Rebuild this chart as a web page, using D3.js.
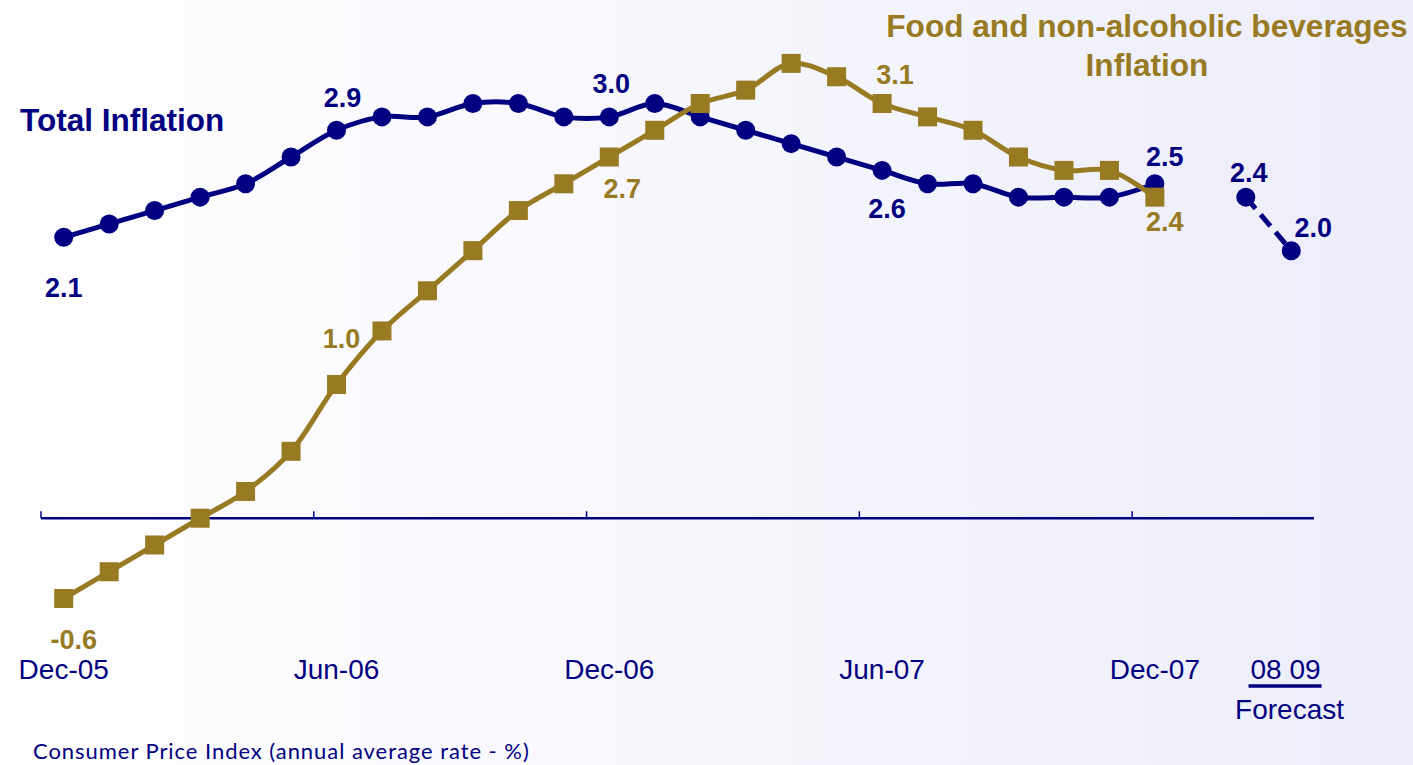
<!DOCTYPE html>
<html>
<head>
<meta charset="utf-8">
<script src="https://cdn.jsdelivr.net/npm/d3@7"></script>
<style>
  html, body { margin: 0; padding: 0; background: #fff; }
  svg { display: block; }
</style>
</head>
<body>
<script>
// Monthly categories, Dec-05 to Dec-07
const months = ["Dec-05","Jan-06","Feb-06","Mar-06","Apr-06","May-06","Jun-06","Jul-06","Aug-06",
  "Sep-06","Oct-06","Nov-06","Dec-06","Jan-07","Feb-07","Mar-07","Apr-07","May-07","Jun-07",
  "Jul-07","Aug-07","Sep-07","Oct-07","Nov-07","Dec-07"];
// Annual forecast categories
const forecastYears = ["08","09"];
// Months shown as axis labels
const tickMonths = ["Dec-05","Jun-06","Dec-06","Jun-07","Dec-07"];

// Consumer Price Index, annual average rate (%)
const totalInflation = [2.1,2.2,2.3,2.4,2.5,2.7,2.9,3.0,3.0,3.1,3.1,3.0,3.0,3.1,3.0,2.9,2.8,2.7,2.6,2.5,2.5,2.4,2.4,2.4,2.5];
const foodInflation  = [-0.6,-0.4,-0.2,0.0,0.2,0.5,1.0,1.4,1.7,2.0,2.3,2.5,2.7,2.9,3.1,3.2,3.4,3.3,3.1,3.0,2.9,2.7,2.6,2.6,2.4];
const totalForecast  = [2.4, 2.0];

// Points that carry a value label
const totalLabelled = ["Dec-05","Jun-06","Dec-06","Jun-07","Dec-07"];
const foodLabelled  = ["Dec-05","Jun-06","Dec-06","Jun-07","Dec-07"];

const yDomain = [-1, 3.5];

const W = 1413, H = 765;
const NAVY = "#000080", OLIVE = "#977A22";
const FONT = "'Liberation Sans', Arial, Helvetica, sans-serif";

const svg = d3.select("body").append("svg").attr("width", W).attr("height", H);

// soft horizontal background wash
const defs = svg.append("defs");
const grad = defs.append("linearGradient").attr("id", "bg").attr("x1", "0").attr("x2", "1").attr("y1", "0").attr("y2", "0");
grad.append("stop").attr("offset", "0").attr("stop-color", "#ffffff");
grad.append("stop").attr("offset", "1").attr("stop-color", "#ededfa");
svg.append("rect").attr("width", W).attr("height", H).attr("fill", "url(#bg)");

// category axis: months, one empty slot, then forecast years
const GAP = "\u2009";
const categories = months.concat([GAP], forecastYears);
const x = d3.scaleBand().domain(categories).range([41, 1314]).paddingInner(0).paddingOuter(0);
const cx = c => x(c) + x.bandwidth() / 2;
const y = d3.scaleLinear().domain(yDomain).range([652, 50]);

// zero line with upward ticks at half-year boundaries
svg.append("line")
  .attr("x1", x.range()[0]).attr("x2", x.range()[1])
  .attr("y1", y(0)).attr("y2", y(0))
  .attr("stroke", NAVY).attr("stroke-width", 2.5);
svg.append("g").selectAll("line").data(tickMonths)
  .join("line")
  .attr("x1", d => x(d)).attr("x2", d => x(d))
  .attr("y1", y(0)).attr("y2", y(0) - 7)
  .attr("stroke", NAVY).attr("stroke-width", 1.5);

// month labels at the bottom of the plot area
const xAxis = d3.axisBottom(x).tickValues(tickMonths).tickSizeInner(0).tickSizeOuter(0).tickPadding(7);
const gx = svg.append("g").attr("transform", `translate(0,${y(yDomain[0])})`).call(xAxis);
gx.select(".domain").remove();
gx.selectAll("text").attr("fill", NAVY).style("font-family", FONT).style("font-size", "28px");

// forecast labels
const fxMid = d3.mean(forecastYears, cx) + 17;
const fText = svg.append("text")
  .attr("x", fxMid).attr("y", 679)
  .attr("text-anchor", "middle")
  .attr("fill", NAVY).style("font-family", FONT).style("font-size", "28px")
  .text(forecastYears.join(" "));
const fb = fText.node().getBBox();
svg.append("line")
  .attr("x1", fb.x - 2).attr("x2", fb.x + fb.width + 1)
  .attr("y1", 686).attr("y2", 686)
  .attr("stroke", NAVY).attr("stroke-width", 3.5);
svg.append("text")
  .attr("x", fxMid + 4).attr("y", 719)
  .attr("text-anchor", "middle")
  .attr("fill", NAVY).style("font-family", FONT).style("font-size", "28px")
  .text("Forecast");

const line = d3.line().x(d => cx(d.c)).y(d => y(d.v)).curve(d3.curveCatmullRom.alpha(0.5));

const totalPts = months.map((c, i) => ({ c, v: totalInflation[i] }));
const foodPts  = months.map((c, i) => ({ c, v: foodInflation[i] }));
const fcPts    = forecastYears.map((c, i) => ({ c, v: totalForecast[i] }));

// Total inflation
svg.append("path").datum(totalPts)
  .attr("d", line).attr("fill", "none")
  .attr("stroke", NAVY).attr("stroke-width", 5);
svg.append("path").datum(fcPts)
  .attr("d", d3.line().x(d => cx(d.c)).y(d => y(d.v))).attr("fill", "none")
  .attr("stroke", NAVY).attr("stroke-width", 5).attr("stroke-dasharray", "15,8");
svg.append("g").selectAll("circle").data(totalPts.concat(fcPts))
  .join("circle")
  .attr("cx", d => cx(d.c)).attr("cy", d => y(d.v)).attr("r", 9.5)
  .attr("fill", NAVY);

// Food and non-alcoholic beverages inflation
svg.append("path").datum(foodPts)
  .attr("d", line).attr("fill", "none")
  .attr("stroke", OLIVE).attr("stroke-width", 5);
const S = 19;
svg.append("g").selectAll("rect").data(foodPts)
  .join("rect")
  .attr("x", d => cx(d.c) - S / 2).attr("y", d => y(d.v) - S / 2)
  .attr("width", S).attr("height", S)
  .attr("fill", OLIVE);

// value labels (offsets relative to the marker centre: dx, baseline dy)
const totalOffsets = { "Dec-05": [0, 60], "Jun-06": [6, -23], "Dec-06": [2, -24], "Jun-07": [5, 48], "Dec-07": [10, -18] };
const foodOffsets  = { "Dec-05": [10, 51], "Jun-06": [5, -36], "Dec-06": [13, 41], "Jun-07": [13, -20], "Dec-07": [10, 34] };
const fcOffsets    = { "08": [3, -15], "09": [22, -14] };

const fmt = d3.formatLocale({ decimal: ".", thousands: ",", grouping: [3], currency: ["", ""], minus: "-" }).format(".1f");

function drawLabels(pts, offsets, color) {
  svg.append("g").selectAll("text").data(pts)
    .join("text")
    .attr("x", d => cx(d.c) + offsets[d.c][0])
    .attr("y", d => y(d.v) + offsets[d.c][1])
    .attr("text-anchor", "middle")
    .attr("fill", color)
    .style("font-family", FONT).style("font-weight", "bold").style("font-size", "27px")
    .text(d => fmt(d.v));
}
drawLabels(totalPts.filter(d => totalLabelled.includes(d.c)), totalOffsets, NAVY);
drawLabels(fcPts, fcOffsets, NAVY);
drawLabels(foodPts.filter(d => foodLabelled.includes(d.c)), foodOffsets, OLIVE);

// series titles
svg.append("text")
  .attr("x", 20).attr("y", 131)
  .attr("fill", NAVY)
  .style("font-family", FONT).style("font-weight", "bold").style("font-size", "31.5px")
  .text("Total Inflation");
const foodTitle = svg.append("text")
  .attr("text-anchor", "middle")
  .attr("fill", OLIVE)
  .style("font-family", FONT).style("font-weight", "bold").style("font-size", "31.6px");
foodTitle.append("tspan").attr("x", 1147).attr("y", 37).text("Food and non-alcoholic beverages");
foodTitle.append("tspan").attr("x", 1147).attr("y", 76).text("Inflation");

// source note
svg.append("text")
  .attr("x", 33).attr("y", 759)
  .attr("fill", NAVY)
  .style("font-family", "Lato, 'Open Sans', sans-serif").style("font-size", "22px")
  .style("letter-spacing", "0.95px")
  .text("Consumer Price Index (annual average rate - %)");
</script>
</body>
</html>
